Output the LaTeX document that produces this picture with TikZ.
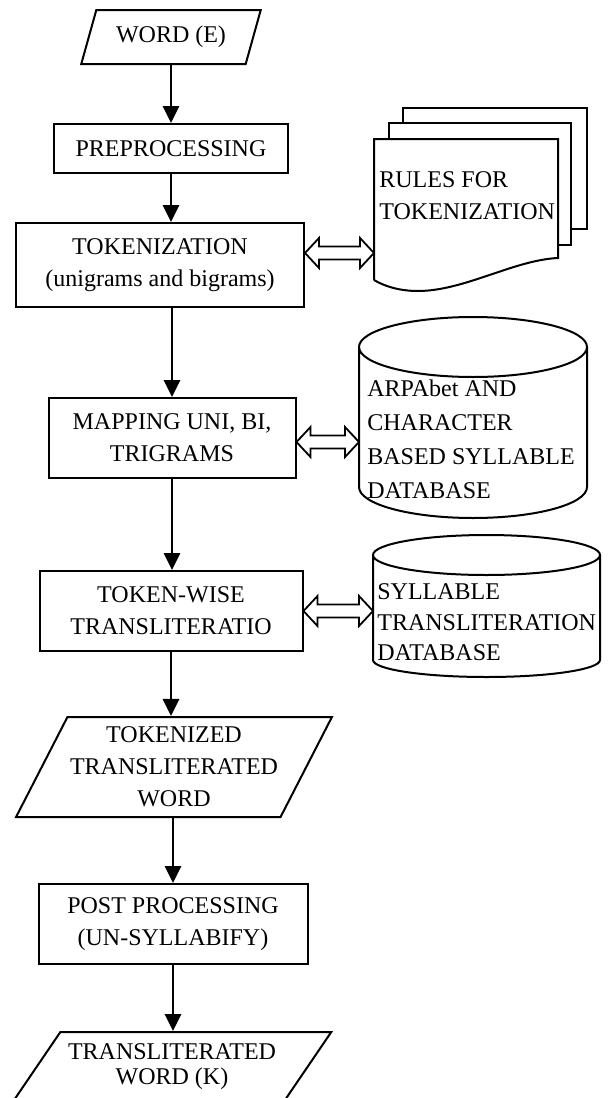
\documentclass[tikz,border=0pt]{standalone}
\usepackage{fontspec}
\setmainfont{Liberation Serif}
\usetikzlibrary{shapes, arrows.meta, calc}
\tikzstyle{io} = [trapezium, trapezium stretches=true, draw=black, line width=1pt, inner sep=0pt, text centered, align=center]
\tikzstyle{process} = [rectangle, draw=black, line width=1pt, inner sep=0pt, text centered, align=center]
\tikzstyle{store} = [rectangle, inner ysep=0pt, align=left]
\tikzstyle{line} = [draw, line width=1.4pt, -{Triangle[length=8.5pt, width=8pt]}]
\tikzstyle{hollow} = [draw, line width=0.9pt, line join=miter]
\tikzstyle{sheet} = [draw, line width=1pt]

% hollow two-headed arrow between two points on one level
\newcommand{\dblarrow}[2]{%
  \path [hollow] (#1) -- ++(7pt,7.5pt) -- ++(0pt,-4.25pt) -- ($(#2)+(-7pt,3.25pt)$) -- ++(0pt,4.25pt)
    -- (#2) -- ++(-7pt,-7.5pt) -- ++(0pt,4.25pt) -- ($(#1)+(7pt,-3.25pt)$) -- ++(0pt,-4.25pt) -- cycle;}

\begin{document}
\begin{tikzpicture}[x=0.5pt, y=-0.5pt, node distance=80pt, font=\fontsize{12}{16}\selectfont]
            \useasboundingbox (0,0) rectangle (607,1098);

            % Nodes of flowchart
            % Main line
            \node (word) [io, trapezium left angle=63, trapezium right angle=117, minimum width=90pt, minimum height=27pt] at (171,37) {WORD (E)};
            \node (prep) [process, below of=word, yshift=24.25pt, minimum width=117pt, minimum height=24.5pt] {PREPROCESSING};
            \node (tok) [process, below of=prep, xshift=-5.5pt, yshift=21.75pt, minimum width=144pt, minimum height=42pt] {TOKENIZATION\\(unigrams and bigrams)};
            \node (map) [process, below of=tok, xshift=6pt, yshift=-6.5pt, minimum width=123.5pt, minimum height=40pt] {MAPPING UNI, BI,\\TRIGRAMS};
            \node (tw) [process, below of=map, xshift=-0.5pt, yshift=-6.5pt, minimum width=131.5pt, minimum height=40pt] {TOKEN-WISE\\TRANSLITERATIO};
            \node (tokd) [io, below of=tw, xshift=1.5pt, yshift=2pt, trapezium left angle=58, trapezium right angle=122, minimum width=158pt, minimum height=50pt] {TOKENIZED\\TRANSLITERATED\\WORD};
            \node (post) [process, below of=tokd, xshift=-0.5pt, yshift=1.5pt, minimum width=134.5pt, minimum height=40pt] {POST PROCESSING\\(UN-SYLLABIFY)};
            \node (out) [io, below of=post, xshift=-0.5pt, yshift=8.5pt, trapezium left angle=46, trapezium right angle=134, minimum width=159.5pt, minimum height=35pt, font=\fontsize{12}{12.5}\selectfont] {TRANSLITERATED\\WORD (K)};

            % Right line
            \node (rules) [store, anchor=west, inner xsep=2.5pt] at (374,196) {RULES FOR\\TOKENIZATION};
            \node (db1) [store, anchor=west, inner xsep=4pt, font=\fontsize{12}{17}\selectfont] at (359,439) {ARPAbet AND\\CHARACTER\\BASED SYLLABLE\\DATABASE};
            \node (db2) [store, anchor=west, inner xsep=2pt, font=\fontsize{12}{15.25}\selectfont] at (373,622.5) {SYLLABLE\\TRANSLITERATION\\DATABASE};

            % Outlines of stores
            \draw [sheet, shift={(rules.west)}] (29,-73) |- (213,-88) |- (197,33);
            \draw [sheet, shift={(rules.west)}] (15,-57) |- (197,-73) |- (184,49);
            \draw [sheet, shift={(rules.west)}] (0,84) -- (0,-57) -- (184,-57) -- (184,62)
                .. controls (140,64) and (90,95) .. (44,95) .. controls (25,95) and (10,90) .. (0,84);
            \draw [sheet, shift={(db1.west)}] (0,-92) -- (0,48) arc[start angle=180, end angle=360, x radius=57pt, y radius=15.5pt]
                -- (228,-92) arc[start angle=0, end angle=180, x radius=57pt, y radius=15pt]
                arc[start angle=180, end angle=360, x radius=57pt, y radius=15pt];
            \draw [sheet, shift={(db2.west)}] (0,-67.5) -- (0,37.5) arc[start angle=180, end angle=360, x radius=56.75pt, y radius=8.5pt]
                -- (227,-67.5) arc[start angle=0, end angle=180, x radius=56.75pt, y radius=10pt]
                arc[start angle=180, end angle=360, x radius=56.75pt, y radius=10pt];

            % Draw lines
            % Main line
            \path [line] (word) -- (prep);
            \path [line] (prep) -- (prep |- tok.north);
            \path [line] (tok.south -| map) -- (map);
            \path [line] (map) -- (map |- tw.north);
            \path [line] (tw) -- (tw |- tokd.north);
            \path [line] (tokd.south -| post) -- (post);
            \path [line] (post) -- (post |- out.north);

            % Right line
            \coordinate (t1) at ([yshift=6pt]tok.east);
            \coordinate (t2) at (t1 -| rules.west);
            \coordinate (m1) at ([yshift=-2pt]map.east);
            \coordinate (m2) at (m1 -| db1.west);
            \coordinate (w1) at (tw.east);
            \coordinate (w2) at (w1 -| db2.west);
            \dblarrow{t1}{t2}
            \dblarrow{m1}{m2}
            \dblarrow{w1}{w2}
\end{tikzpicture}
\end{document}
